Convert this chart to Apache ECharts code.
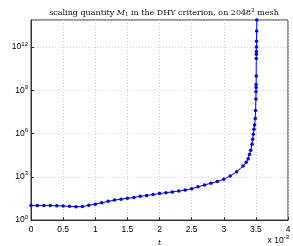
<!DOCTYPE html>
<html><head><meta charset="utf-8">
<script src="https://cdn.jsdelivr.net/npm/echarts@6/dist/echarts.min.js"></script>
<style>html,body{margin:0;padding:0;background:#fff}#c{width:293px;height:246px}</style>
</head><body><div id="c"></div>
<script>
// time t (seconds)
const times = [0,0.0001,0.0002,0.0003,0.0004,0.0005,0.0006,0.0007,0.0008,0.0009,
  0.0010,0.0011,0.0012,0.0013,0.0014,0.0015,0.0016,0.0017,0.0018,0.0019,
  0.0020,0.0021,0.0022,0.0023,0.0024,0.0025,0.0026,0.0027,0.0028,0.0029,
  0.0030,0.0031,0.0032,0.0033,0.00335,0.00338,0.0034,0.00342,0.00344,0.00345,
  0.00346,0.00347,0.00348,0.00349,0.003495,0.0035,0.003502,0.003503,0.003504,0.003505,
  0.003506,0.003507,0.003508,0.003509,0.00351,0.003512,0.003515];
// scaling quantity M1
const m1 = [10,10,10,10,9.8,9.5,8.9,8.3,8.5,10.5,
  12.6,15.5,20,24,28,32,37,44,50,59,
  68,78,89,102,120,148,200,270,355,470,
  680,1150,2200,5600,1e4,1.8e4,3.5e4,7e4,1.8e5,4e5,
  9e5,2e6,4e6,1.1e7,4e7,2.5e8,8e8,1.6e9,2.5e9,1e10,
  1.6e11,3.2e11,5e11,1e12,2.5e12,1.3e13,7.6e13];
const xTicks = [0,0.5,1,1.5,2,2.5,3,3.5,4]; // x 10^-3
const yTickExps = [0,3,6,9,12];

const chart = echarts.init(document.getElementById('c'), null, {renderer:'canvas'});
const tickFont = 'Liberation Sans, Arial, sans-serif';
const serif = 'DejaVu Serif';
const tf = 8;
chart.setOption({
  animation:false,
  title:{
    text:'{n|scaling quantity }{i|M}{sub|1}{n| in the DHY criterion, on 2048}{sup|2}{n| mesh}',
    left:159, top:3, textAlign:'center',
    textStyle:{fontWeight:'normal',rich:{
      n:{fontFamily:serif,fontSize:tf,color:'#111',fontWeight:'normal'},
      i:{fontFamily:serif,fontStyle:'italic',fontSize:tf,color:'#111',fontWeight:'normal'},
      sub:{fontFamily:serif,fontSize:5.5,color:'#111',fontWeight:'normal',verticalAlign:'bottom',padding:[4,0,0,0]},
      sup:{fontFamily:serif,fontSize:5.5,color:'#111',fontWeight:'normal',verticalAlign:'top',padding:[0,0,4,0]}
    }}
  },
  grid:{left:31,right:5,top:20,bottom:26,show:true,borderColor:'#333',borderWidth:1,
        containLabel:false,outerBoundsMode:'none'},
  xAxis:{
    type:'value', min:0, max:0.004, interval:0.0005,
    axisLine:{show:true,lineStyle:{color:'#333'}},
    axisTick:{show:true,inside:true,length:3,lineStyle:{color:'#333'}},
    axisLabel:{margin:5,fontSize:8.5,color:'#000',fontFamily:tickFont,
      formatter:v=>{const k=Math.round(v*2000)/2; return xTicks.indexOf(k)>=0?String(k):'';}},
    splitLine:{show:true,lineStyle:{color:'#d0d0d0',type:[1,2],width:1}},
    name:'t', nameLocation:'middle', nameGap:12,
    nameTextStyle:{fontFamily:serif,fontStyle:'italic',fontSize:7.5,color:'#000'}
  },
  yAxis:{
    type:'log', logBase:10, min:1, max:7.6e13, interval:3,
    axisLine:{show:true,lineStyle:{color:'#333'}},
    axisTick:{show:true,inside:true,length:3,lineStyle:{color:'#333'}},
    axisLabel:{margin:3,showMaxLabel:false,fontFamily:tickFont,color:'#000',
      formatter:v=>{const e=Math.round(Math.log10(v)); return yTickExps.indexOf(e)>=0?'{b|10}{s|'+e+'}':'';},
      rich:{b:{fontSize:8.5,fontFamily:tickFont,color:'#000'},
            s:{fontSize:6,fontFamily:tickFont,color:'#000',verticalAlign:'top',padding:[0,0,6,0]}}},
    splitLine:{show:true,lineStyle:{color:'#d0d0d0',type:[1,2],width:1}},
    name:'{i|M}{s|1}', nameLocation:'middle', nameGap:21,
    nameTextStyle:{rich:{i:{fontFamily:serif,fontStyle:'italic',fontSize:8,color:'#000'},
      s:{fontFamily:serif,fontSize:5.5,color:'#000',verticalAlign:'bottom',padding:[4,0,0,0]}}}
  },
  graphic:[{type:'text',right:4,bottom:1,style:{text:'x 10{s|-3}',
    rich:{s:{fontSize:6,fontFamily:tickFont,verticalAlign:'top',padding:[0,0,6,0]}},
    fontSize:8.5,fontFamily:tickFont,fill:'#000'}}],
  series:[{
    type:'line', data:times.map((t,i)=>[t,m1[i]]),
    lineStyle:{color:'#0000ff',width:1},
    itemStyle:{color:'#0000ff'},
    symbol:'circle', symbolSize:3.5, showSymbol:true, clip:true
  }]
});
</script></body></html>
